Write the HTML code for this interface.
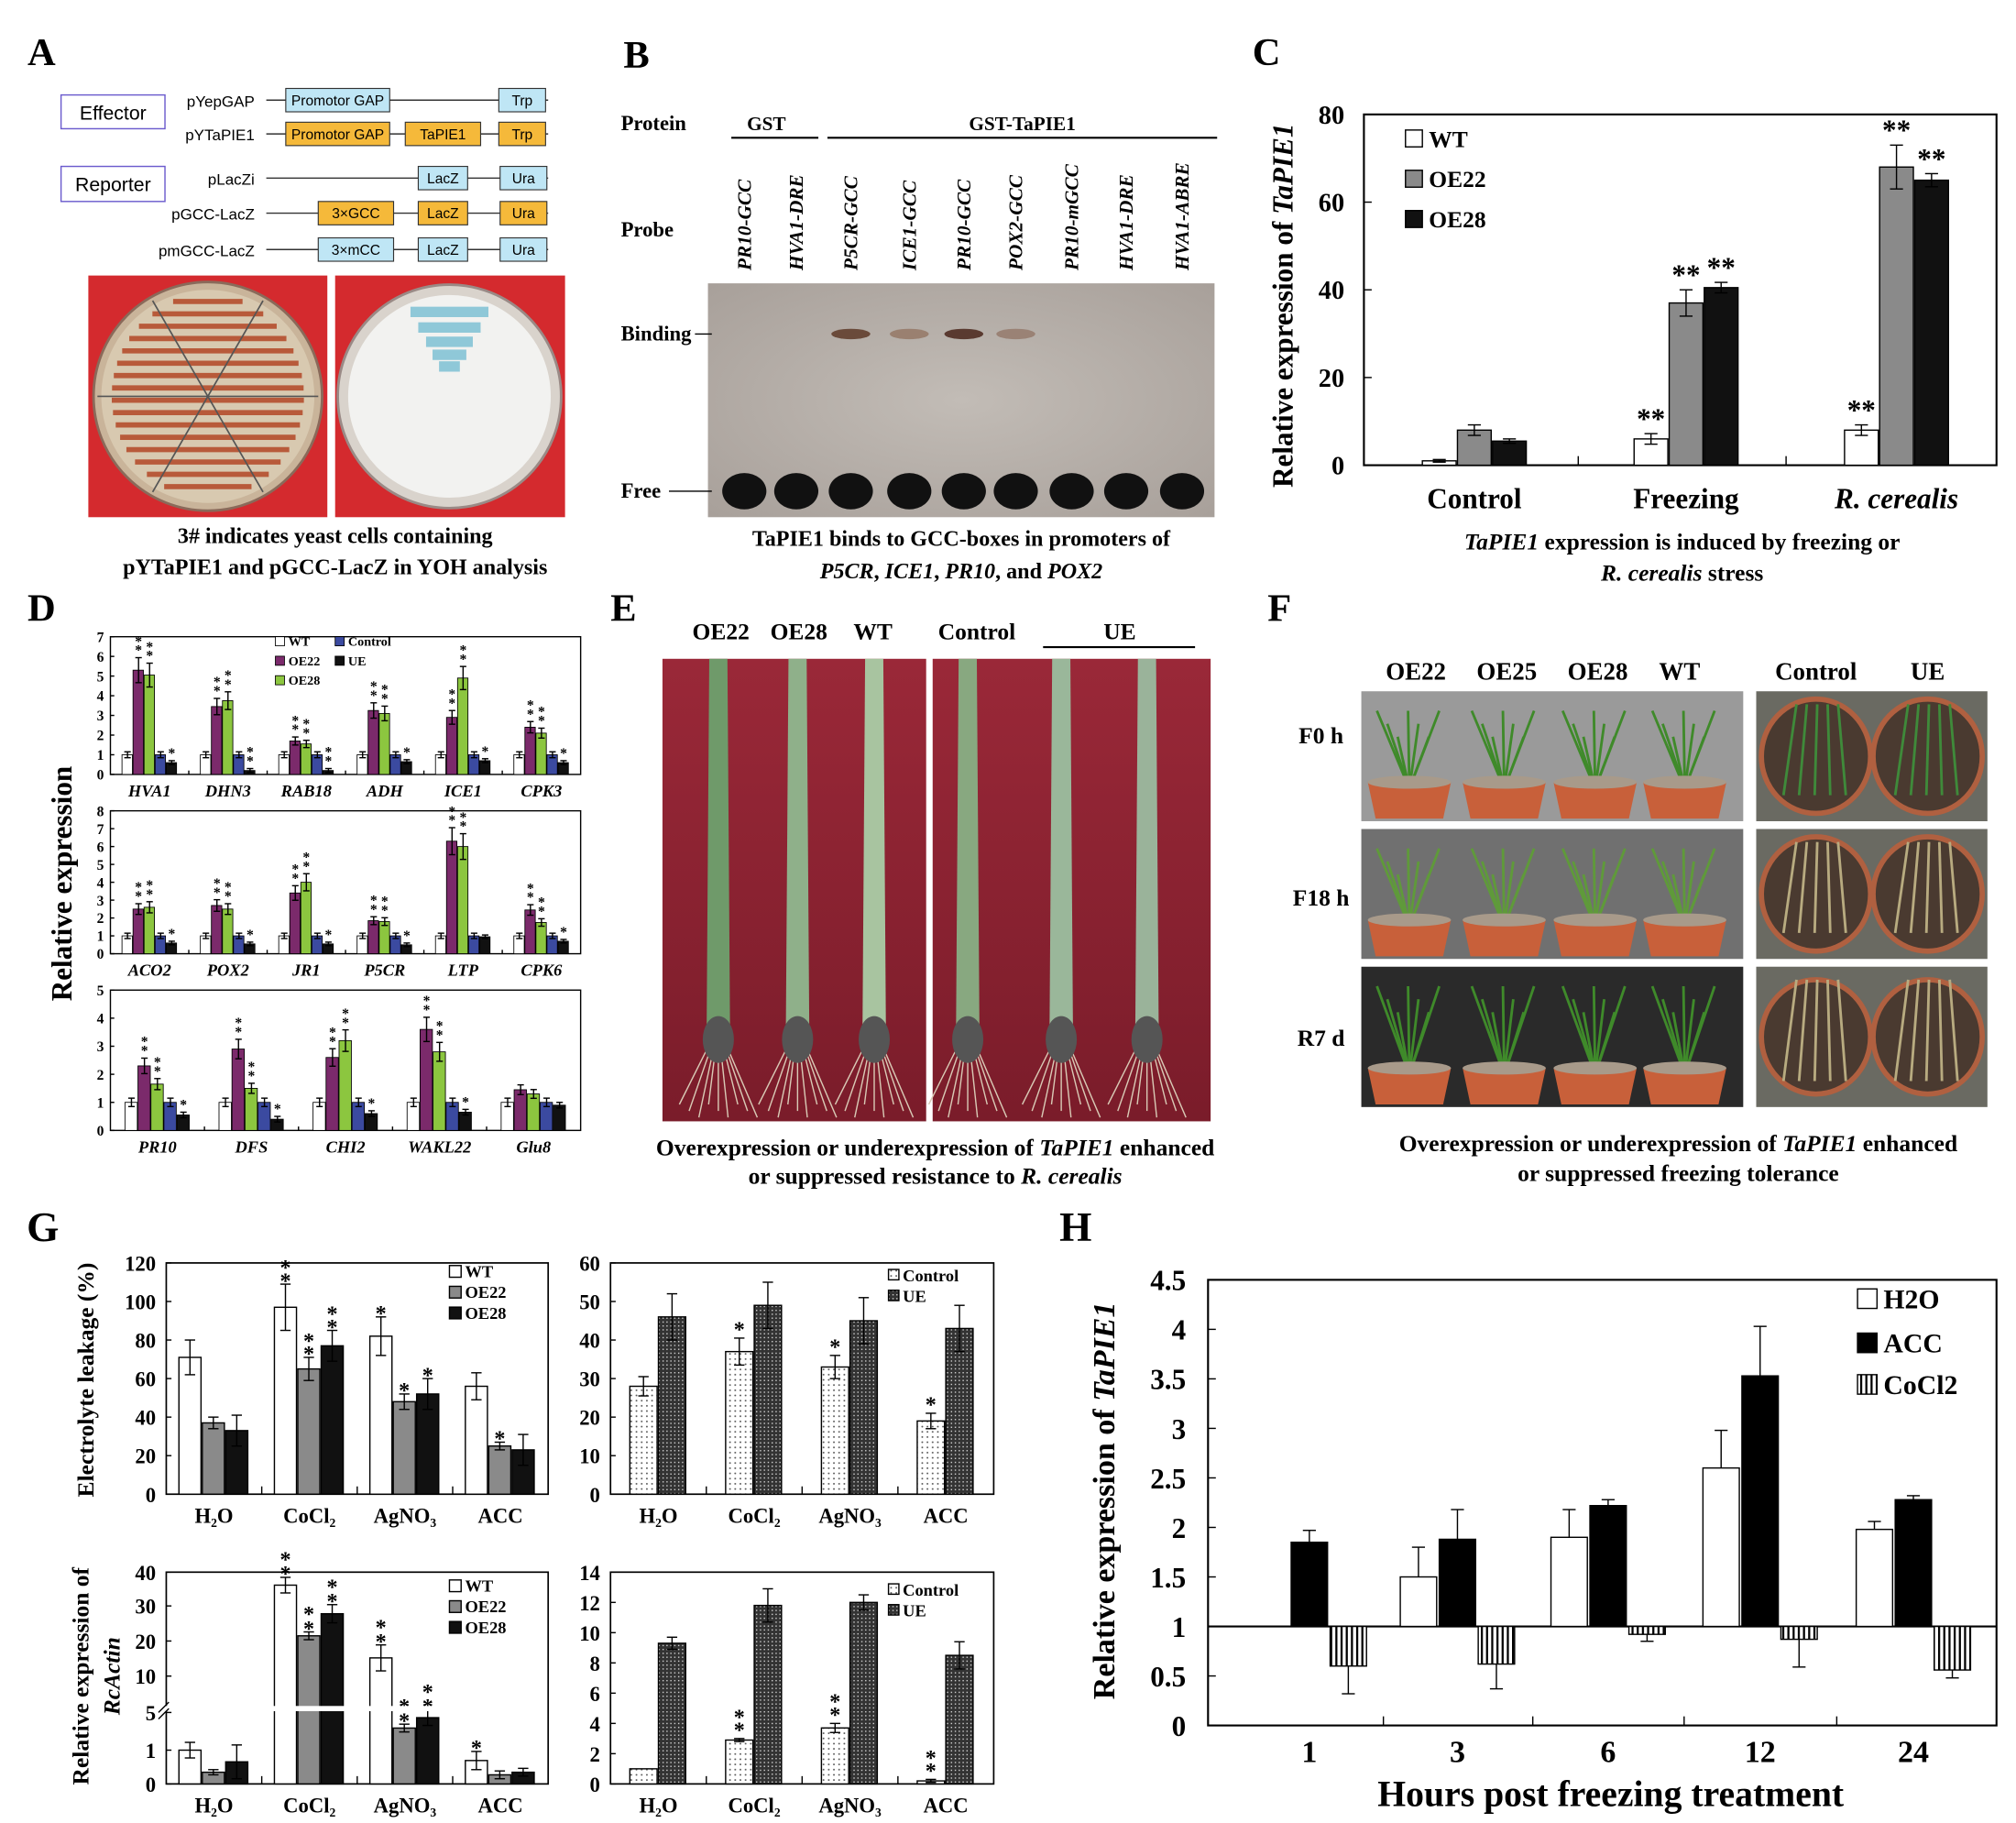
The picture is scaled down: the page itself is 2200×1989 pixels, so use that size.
<!DOCTYPE html>
<html><head><meta charset="utf-8">
<style>
html,body{margin:0;padding:0;background:#fff;}
svg{display:block;font-family:"Liberation Serif",serif;font-weight:bold;}
.s{font-family:"Liberation Sans",sans-serif;font-weight:normal;}
</style></head>
<body>
<svg id="g" xmlns="http://www.w3.org/2000/svg" width="2200" height="1989" viewBox="0 0 1552 1403">
<defs>
<pattern id="dots" width="4" height="4" patternUnits="userSpaceOnUse"><rect width="4" height="4" fill="#fff"/><circle cx="2" cy="2" r="0.7" fill="#555"/></pattern>
<pattern id="dark" width="3" height="3" patternUnits="userSpaceOnUse"><rect width="3" height="3" fill="#333"/><rect width="1" height="1" fill="#ccc"/></pattern>
<pattern id="vstr" width="4" height="4" patternUnits="userSpaceOnUse"><rect width="4" height="4" fill="#fff"/><rect width="1.6" height="4" fill="#000"/></pattern>
<radialGradient id="gel" cx="50%" cy="50%" r="70%"><stop offset="0" stop-color="#c2bcb6"/><stop offset="1" stop-color="#a8a09a"/></radialGradient>
<linearGradient id="ered" x1="0" x2="0" y1="0" y2="1"><stop offset="0" stop-color="#9a2838"/><stop offset="1" stop-color="#7a1c2a"/></linearGradient>
</defs>
</svg>
<script>
const S=document.getElementById('g');const NS='http://www.w3.org/2000/svg';
function el(t,a,txt){const e=document.createElementNS(NS,t);for(const k in a)e.setAttribute(k,a[k]);if(txt!==undefined)e.textContent=txt;S.appendChild(e);return e;}
function R(x,y,w,h,f,s,sw){return el('rect',{x,y,width:w,height:h,fill:f||'none',stroke:s||'none','stroke-width':sw||1});}
function L(x1,y1,x2,y2,s,w){return el('line',{x1,y1,x2,y2,stroke:s||'#000','stroke-width':w||1});}
function T(x,y,s,sz,anc,ex){const a={x,y,'font-size':sz,'text-anchor':anc||'middle'};Object.assign(a,ex||{});return el('text',a,s);}
function err(x,y1,y2,w){L(x,y1,x2=x,y2);L(x-w,y1,x+w,y1);L(x-w,y2,x+w,y2);}

// ===== Panel A =====
T(32,50,'A',30,'middle');
R(47,73,80,26,'#fff','#6a5acd',1);T(87,92,'Effector',15,'middle',{class:'s'});
R(47,128,80,27,'#fff','#6a5acd',1);T(87,147,'Reporter',15,'middle',{class:'s'});
const cy='#bfe6f5',or='#f5b93a';
function rowA(y,lab,boxes){T(196,y+5,lab,12,'end',{class:'s'});L(205,y,422,y,'#333',1);boxes.forEach(b=>{R(b[0],y-9,b[1]-b[0],18,b[3],'#333',0.8);T((b[0]+b[1])/2,y+4,b[2],11,'middle',{class:'s'});});}
rowA(77,'pYepGAP',[[220,300,'Promotor GAP',cy],[384,420,'Trp',cy]]);
rowA(103,'pYTaPIE1',[[220,300,'Promotor GAP',or],[312,370,'TaPIE1',or],[384,420,'Trp',or]]);
rowA(137,'pLacZi',[[322,360,'LacZ',cy],[385,421,'Ura',cy]]);
rowA(164,'pGCC-LacZ',[[245,303,'3×GCC',or],[322,360,'LacZ',or],[385,421,'Ura',or]]);
rowA(192,'pmGCC-LacZ',[[245,303,'3×mCC',cy],[322,360,'LacZ',cy],[385,421,'Ura',cy]]);
R(68,212,184,186,'#d42a2e');el('circle',{cx:160,cy:305,r:88,fill:'#c9b49a',stroke:'#8a6a5a','stroke-width':2});
el('circle',{cx:160,cy:305,r:82,fill:'#d8c9b0'});
for(let i=0;i<16;i++){const yy=232+i*9.5;const dx=Math.sqrt(Math.max(0,80*80-(yy-305)*(yy-305)));L(160-dx+6,yy,160+dx-6,yy,'#b85a3a',4);}
for(let k=0;k<3;k++){const a=k*Math.PI/3;L(160-85*Math.cos(a),305-85*Math.sin(a),160+85*Math.cos(a),305+85*Math.sin(a),'#555',1.2);}
R(258,212,177,186,'#d42a2e');el('circle',{cx:346,cy:305,r:86,fill:'#d9d3cc',stroke:'#9a8a86','stroke-width':2});
el('circle',{cx:346,cy:305,r:78,fill:'#f2f2f0'});
[[346,240,60],[346,252,48],[346,263,36],[346,273,26],[346,282,16]].forEach(b=>R(b[0]-b[2]/2,b[1]-4,b[2],8,'#8fc8d8'));
T(258,418,'3# indicates yeast cells containing',17);T(258,442,'pYTaPIE1 and pGCC-LacZ in YOH analysis',17);

// ===== Panel B =====
T(490,52,'B',30);
T(478,100,'Protein',16,'start');T(590,100,'GST',15);L(563,106,630,106,'#000',1.5);
T(787,100,'GST-TaPIE1',15);L(637,106,937,106,'#000',1.5);
T(478,182,'Probe',16,'start');
const lanes=[573,613,655,700,742,782,825,867,910];
const ll=['PR10-GCC','HVA1-DRE','P5CR-GCC','ICE1-GCC','PR10-GCC','POX2-GCC','PR10-mGCC','HVA1-DRE','HVA1-ABRE'];
lanes.forEach((x,i)=>{T(x+5,208,ll[i],15,'start',{transform:`rotate(-90 ${x+5} 208)`,'font-style':'italic'});});
R(545,218,390,180,'url(#gel)');
[655,700,742,782].forEach((x,i)=>el('ellipse',{cx:x,cy:257,rx:15,ry:4,fill:['#6a4a3a','#9a8070','#5a3a30','#9a8275'][i]}));
lanes.forEach(x=>el('ellipse',{cx:x,cy:378,rx:17,ry:14,fill:'#111'}));
T(478,262,'Binding',16,'start');L(535,257,548,257);T(478,383,'Free',16,'start');L(515,378,548,378);
T(740,420,'TaPIE1 binds to GCC-boxes in promoters of',17);
el('text',{x:740,y:445,'font-size':17,'text-anchor':'middle'}).innerHTML='<tspan font-style="italic">P5CR</tspan>, <tspan font-style="italic">ICE1</tspan>, <tspan font-style="italic">PR10</tspan>, and <tspan font-style="italic">POX2</tspan>';

// ===== Panel C =====
T(975,50,'C',30);
R(1050,88,487,270,'none','#000',1.5);
const cY=v=>358-v*3.375;
[0,20,40,60,80].forEach(v=>{T(1035,cY(v)+7,String(v),20,'end');L(1050,cY(v),1056,cY(v));});
[1215,1375].forEach(x=>L(x,358,x,351));
const cg=[[1135,[1,8,5.5],[0.3,1.2,0.5]],[1298,[6,37,40.5],[1.2,3,1.2]],[1460,[8,68,65],[1.2,5,1.5]]];
const cf=['#fff','#8a8a8a','#111'];
cg.forEach((g,gi)=>{g[1].forEach((v,i)=>{const x=g[0]-40+i*27;R(x,cY(v),26,358-cY(v),cf[i],'#000',1);err(x+13,cY(v+g[2][i]),cY(v-g[2][i]),5);
 if(gi>0){T(x+13,cY(v+g[2][i])-4,'**',22);}});});
[[112,'WT',cf[0]],[143,'OE22',cf[1]],[174,'OE28',cf[2]]].forEach(l=>{R(1082,l[0]-12,13,13,l[2],'#000',1);T(1100,l[0]+1,l[1],18,'start');});
T(1000,235,'',1);
el('text',{x:995,y:235,'font-size':22,'text-anchor':'middle',transform:'rotate(-90 995 235)'}).innerHTML='Relative expression of <tspan font-style="italic">TaPIE1</tspan>';
T(1135,391,'Control',22);T(1298,391,'Freezing',22);T(1460,391,'R. cerealis',22,'middle',{'font-style':'italic'});
el('text',{x:1295,y:423,'font-size':18,'text-anchor':'middle'}).innerHTML='<tspan font-style="italic">TaPIE1</tspan> expression is induced by freezing or';
el('text',{x:1295,y:447,'font-size':18,'text-anchor':'middle'}).innerHTML='<tspan font-style="italic">R. cerealis</tspan> stress';

// ===== Panel D =====
T(32,478,'D',30);
const dcol=['#fff','#7b2a6b','#8cc63f','#3b4aa0','#111'];
function dplot(top,bot,max,genes,data){const l=85,r=447;R(l,top,r-l,bot-top,'none','#000',1);
 const y=v=>bot-v*(bot-top)/max;for(let v=0;v<=max;v++){T(l-5,y(v)+4,String(v),11,'end');L(l,y(v),l+3,y(v));}
 const gw=(r-l)/genes.length;const bw=genes.length==6?8.5:10;
 genes.forEach((gname,gi)=>{const c=l+gw*(gi+0.5);if(gi>0)L(l+gw*gi,bot,l+gw*gi,bot-3);
  data[gi].forEach((v,i)=>{const x=c-2.5*bw+i*bw;R(x,y(v),bw-0.5,bot-y(v),dcol[i],'#000',0.6);
   const e=(i==0||i==3)?0.15:(i==4?0.1:v*0.12);err(x+bw/2,y(v+e),y(Math.max(0,v-e)),2.5);
   if(i==1||i==2||i==4){if(!(gi==4&&genes.length==5)&&!(gname=='LTP'&&i==4)){T(x+bw/2,y(v+e)-2,'*',11);if(i!=4||v<0.4)T(x+bw/2,y(v+e)-9,'*',11);}}});
  T(c,bot+17,gname,13,'middle',{'font-style':'italic'});});}
dplot(490,596,7,['HVA1','DHN3','RAB18','ADH','ICE1','CPK3'],[[1,5.3,5.05,1,0.6],[1,3.45,3.75,1,0.2],[1,1.7,1.55,1,0.2],[1,3.25,3.1,1,0.65],[1,2.9,4.9,1,0.7],[1,2.4,2.1,1,0.6]]);
dplot(624,734,8,['ACO2','POX2','JR1','P5CR','LTP','CPK6'],[[1,2.5,2.6,1,0.6],[1,2.7,2.5,1,0.55],[1,3.4,4,1,0.55],[1,1.85,1.8,1,0.5],[1,6.3,6,1,0.95],[1,2.45,1.75,1,0.7]]);
dplot(762,870,5,['PR10','DFS','CHI2','WAKL22','Glu8'],[[1,2.3,1.65,1,0.55],[1,2.9,1.5,1,0.4],[1,2.6,3.2,1,0.6],[1,3.6,2.8,1,0.65],[1,1.45,1.3,1,0.9]]);
[[212,497,'WT',0],[212,512,'OE22',1],[212,527,'OE28',2],[258,497,'Control',3],[258,512,'UE',4]].forEach(l=>{R(l[0],l[1]-7,7,7,dcol[l[3]],'#000',0.6);T(l[0]+10,l[1],l[2],10,'start');});
T(55,680,'Relative expression',22,'middle',{transform:'rotate(-90 55 680)'});

// ===== Panel E =====
T(480,478,'E',30);
[['OE22',555],['OE28',615],['WT',672],['Control',752],['UE',862]].forEach(h=>T(h[1],492,h[0],18));L(803,498,920,498,'#000',1.5);
R(510,507,203,356,'url(#ered)');R(718,507,214,356,'url(#ered)');
function stem(x,top,bot,w,col){el('path',{d:`M${x-w/2} ${top} L${x+w/2} ${top} L${x+w/2+2} ${bot} L${x-w/2-2} ${bot}Z`,fill:col});}
[[553,'#6f9a6a'],[614,'#8fb08a'],[673,'#a8c4a0'],[745,'#88a880'],[817,'#9ab79a'],[883,'#9ab39a']].forEach(s=>{stem(s[0],507,790,14,s[1]);
 for(let k=0;k<9;k++){L(s[0],790,s[0]-30+k*7.5,850+(k%3)*5,'#d9c9b5',1);} el('ellipse',{cx:s[0],cy:800,rx:12,ry:18,fill:'#555'});});
el('text',{x:720,y:889,'font-size':18,'text-anchor':'middle'}).innerHTML='Overexpression or underexpression of <tspan font-style="italic">TaPIE1</tspan> enhanced';
el('text',{x:720,y:911,'font-size':18,'text-anchor':'middle'}).innerHTML='or suppressed resistance to <tspan font-style="italic">R. cerealis</tspan>';

// ===== Panel F =====
T(985,478,'F',30);
[['OE22',1090],['OE25',1160],['OE28',1230],['WT',1293],['Control',1398],['UE',1484]].forEach(h=>T(h[1],523,h[0],19));
[['F0 h',572],['F18 h',697],['R7 d',805]].forEach(r=>T(1017,r[1],r[0],18));
const fr=[[532,632,'#9a9a9a'],[638,738,'#707070'],[744,852,'#2a2a2a']];
fr.forEach((r,ri)=>{R(1048,r[0],294,r[1]-r[0],r[2]);R(1352,r[0],178,r[1]-r[0],'#6a6a62');
 [1085,1158,1228,1297].forEach(x=>{for(let k=0;k<7;k++)L(x,r[1]-25,x-25+k*8,r[0]+15+(k%3)*10,ri==1?'#5f9a3a':'#3f8a2a',2);
  el('path',{d:`M${x-32} ${r[1]-30} L${x+32} ${r[1]-30} L${x+26} ${r[1]-2} L${x-26} ${r[1]-2}Z`,fill:'#c8603a'});el('ellipse',{cx:x,cy:r[1]-30,rx:32,ry:5,fill:'#a89a8a'});});
 [1398,1484].forEach(x=>{el('ellipse',{cx:x,cy:(r[0]+r[1])/2,rx:42,ry:44,fill:'#4a3a30',stroke:'#b06040','stroke-width':4});
  for(let k=0;k<5;k++)L(x-25+k*12,r[1]-20,x-15+k*8,r[0]+10,ri==0?'#3f8a3a':'#b8ab80',2);});});
el('text',{x:1292,y:886,'font-size':18,'text-anchor':'middle'}).innerHTML='Overexpression or underexpression of <tspan font-style="italic">TaPIE1</tspan> enhanced';
T(1292,909,'or suppressed freezing tolerance',18);

// ===== Panel G =====
T(33,955,'G',32);
const gx=[['H₂O'],['CoCl₂'],['AgNO₃'],['ACC']];
function gAxes(l,r,top,bot,ticks,yf){R(l,top,r-l,bot-top,'none','#000',1.2);ticks.forEach(t=>{T(l-8,yf(t)+6,String(t),16,'end');L(l,yf(t),l+4,yf(t));});
 const gw=(r-l)/4;for(let i=0;i<4;i++){if(i>0)L(l+gw*i,bot,l+gw*i,bot-6);T(l+gw*(i+0.5),bot+22,gx[i][0],16);}}
// G1
{const l=128,r=422,top=972,bot=1150,y=v=>bot-v*(bot-top)/120;gAxes(l,r,top,bot,[0,20,40,60,80,100,120],y);
 const d=[[71,37,33],[97,65,77],[82,48,52],[56,25,23]],e=[[9,3,8],[12,6,8],[10,4,8],[7,2,8]];const st=[['','',''],['**','**','**'],['*','*','*'],['','*','']];
 const gw=(r-l)/4;d.forEach((g,gi)=>g.forEach((v,i)=>{const x=l+gw*(gi+0.5)-27+i*18;R(x,y(v),17,bot-y(v),cf[i],'#000',1);err(x+8.5,y(v+e[gi][i]),y(v-e[gi][i]),4);
  if(st[gi][i]){T(x+8.5,y(v+e[gi][i])+5-2,'*',17);if(st[gi][i]=='**')T(x+8.5,y(v+e[gi][i])-7,'*',17);}}));
 [[983,'WT'],[999,'OE22'],[1015,'OE28']].forEach((q,i)=>{R(346,q[0]-9,9,9,cf[i],'#000',1);T(358,q[0],q[1],13,'start');});
 T(72,1062,'Electrolyte leakage (%)',18,'middle',{transform:'rotate(-90 72 1062)'});}
// G2
{const l=470,r=765,top=972,bot=1150,y=v=>bot-v*(bot-top)/60;gAxes(l,r,top,bot,[0,10,20,30,40,50,60],y);
 const d=[[28,46],[37,49],[33,45],[19,43]],e=[[2.5,6],[3.5,6],[3,6],[2,6]];const gw=(r-l)/4;
 d.forEach((g,gi)=>g.forEach((v,i)=>{const x=l+gw*(gi+0.5)-22+i*22;R(x,y(v),21,bot-y(v),i?'url(#dark)':'url(#dots)','#000',1);err(x+10.5,y(v+e[gi][i]),y(v-e[gi][i]),4);
  if(i==0&&gi>0)T(x+10.5,y(v+e[gi][i])-1,'*',17);}));
 R(684,977,8,8,'url(#dots)','#000',1);T(695,986,'Control',13,'start');R(684,993,8,8,'url(#dark)','#000',1);T(695,1002,'UE',13,'start');}
// G3
{const l=128,r=422,top=1210,bot=1373;const tk={0:1373,1:1347,5:1318,10:1290,20:1263,30:1236,40:1210};
 R(l,top,r-l,bot-top,'none','#000',1.2);Object.keys(tk).forEach(t=>{T(l-8,tk[t]+6,t,16,'end');L(l,tk[t],l+4,tk[t]);});
 const gw=(r-l)/4;for(let i=0;i<4;i++){if(i>0)L(l+gw*i,bot,l+gw*i,bot-6);T(l+gw*(i+0.5),bot+22,gx[i][0],16);}
 const tops=[[1347,1364,1356],[1220,1259,1242],[1276,1330,1322],[1355,1366,1364]];
 const es=[[6,2,13],[6,3,7],[10,3,6],[7,3,3]];const st=[['','',''],['**','**','**'],['**','**','**'],['*','','']];
 tops.forEach((g,gi)=>g.forEach((t,i)=>{const x=l+gw*(gi+0.5)-27+i*18;R(x,t,17,bot-t,cf[i],'#000',1);err(x+8.5,t-es[gi][i],t+es[gi][i],4);
  if(st[gi][i]){T(x+8.5,t-es[gi][i]+3,'*',17);if(st[gi][i]=='**')T(x+8.5,t-es[gi][i]-8,'*',17);}}));
 R(l-2,1313,r-l,4,'#fff');L(l-6,1318,l+2,1310);L(l-6,1323,l+2,1315);
 [[1225,'WT'],[1241,'OE22'],[1257,'OE28']].forEach((q,i)=>{R(346,q[0]-9,9,9,cf[i],'#000',1);T(358,q[0],q[1],13,'start');});
 T(68,1290,'Relative expression of',18,'middle',{transform:'rotate(-90 68 1290)'});T(92,1290,'RcActin',18,'middle',{transform:'rotate(-90 92 1290)','font-style':'italic'});}
// G4
{const l=470,r=765,top=1210,bot=1373,y=v=>bot-v*(bot-top)/14;gAxes(l,r,top,bot,[0,2,4,6,8,10,12,14],y);
 const d=[[1,9.3],[2.9,11.8],[3.7,12],[0.2,8.5]],e=[[0,0.4],[0.1,1.1],[0.3,0.5],[0.1,0.9]];const gw=(r-l)/4;
 d.forEach((g,gi)=>g.forEach((v,i)=>{const x=l+gw*(gi+0.5)-22+i*22;R(x,y(v),21,bot-y(v),i?'url(#dark)':'url(#dots)','#000',1);if(e[gi][i])err(x+10.5,y(v+e[gi][i]),y(v-e[gi][i]),4);
  if(i==0&&gi>0){T(x+10.5,y(v+e[gi][i])-1,'*',17);T(x+10.5,y(v+e[gi][i])-11,'*',17);}}));
 R(684,1219,8,8,'url(#dots)','#000',1);T(695,1228,'Control',13,'start');R(684,1235,8,8,'url(#dark)','#000',1);T(695,1244,'UE',13,'start');}

// ===== Panel H =====
T(828,955,'H',32);
{const l=930,r=1537,top=985,bot=1328,y=v=>bot-v*(bot-top)/4.5;R(l,top,r-l,bot-top,'none','#000',1.5);
 [0,0.5,1,1.5,2,2.5,3,3.5,4,4.5].forEach(v=>{T(913,y(v)+8,String(v),22,'end');L(l,y(v),l+6,y(v));});
 L(l,y(1),r,y(1),'#000',1.5);
 const xs=[1008,1122,1238,1355,1473];const d=[[1,1.85,0.6],[1.5,1.88,0.62],[1.9,2.22,0.92],[2.6,3.53,0.87],[1.98,2.28,0.56]];
 const e=[[0,0.12,0.28],[0.3,0.3,0.25],[0.28,0.06,0.07],[0.38,0.5,0.28],[0.08,0.04,0.08]];const fl=['#fff','#000','url(#vstr)'];
 xs.forEach((c,gi)=>{T(c,1356,['1','3','6','12','24'][gi],24);if(gi>0)L((xs[gi-1]+c)/2,bot,(xs[gi-1]+c)/2,bot-7);
  d[gi].forEach((v,i)=>{if(v==1)return;const x=c-44+i*30;const t=Math.min(y(v),y(1)),b=Math.max(y(v),y(1));R(x,t,28,b-t,fl[i],'#000',1);
   const ye=v>1?y(v+e[gi][i]):y(v-e[gi][i]);L(x+14,y(v),x+14,ye);L(x+9,ye,x+19,ye);});});
 [[1006,'H2O',0],[1040,'ACC',1],[1072,'CoCl2',2]].forEach(q=>{R(1430,q[0]-14,15,15,fl[q[2]],'#000',1);T(1450,q[0]+1,q[1],21,'start');});
 el('text',{x:858,y:1155,'font-size':24,'text-anchor':'middle',transform:'rotate(-90 858 1155)'}).innerHTML='Relative expression of <tspan font-style="italic">TaPIE1</tspan>';
 T(1240,1390,'Hours post freezing treatment',28);}
</script>
</body></html>
